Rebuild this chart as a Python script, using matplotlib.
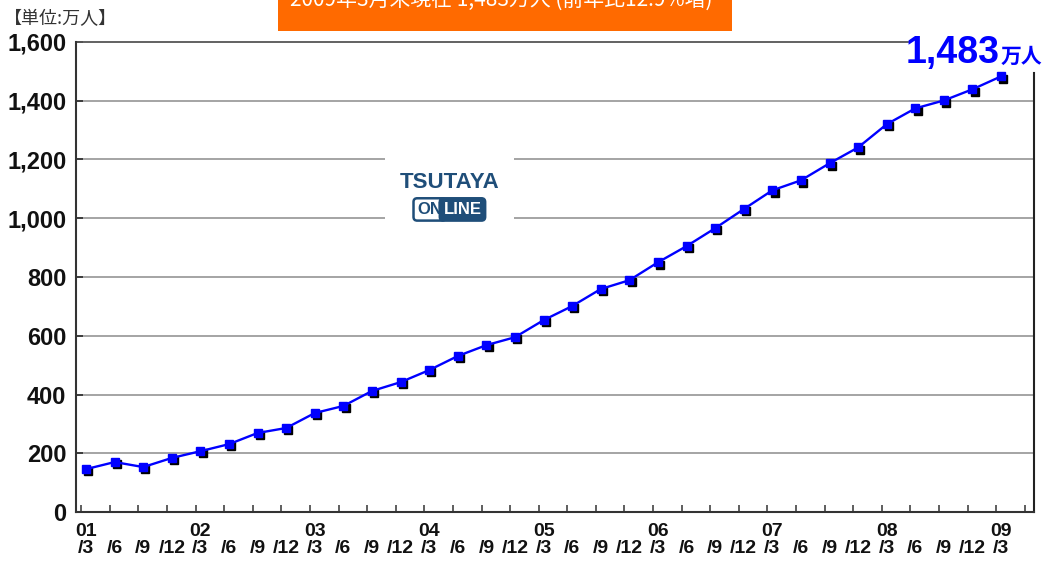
import numpy as np
import matplotlib.pyplot as plt
import matplotlib.transforms as mtransforms
from matplotlib.patches import Rectangle

# quarterly members (10k people), 2001/3 .. 2009/3
years = ["01", "02", "03", "04", "05", "06", "07", "08", "09"]
months = ["/3", "/6", "/9", "/12"]
members = [146, 170, 153, 184, 207, 231, 269, 286, 337, 361, 412, 442,
           483, 531, 568, 595, 653, 701, 759, 789, 850, 905, 966, 1031,
           1095, 1129, 1187, 1241, 1320, 1374, 1401, 1439, 1483]
yticks = [0, 200, 400, 600, 800, 1000, 1200, 1400, 1600]

narrow = ['Liberation Sans', 'DejaVu Sans']
cjk = ['Noto Sans CJK JP', 'DejaVu Sans']

labels = []
for i in range(len(members)):
    m = months[i % 4]
    y = years[i // 4] if i % 4 == 0 else ""
    labels.append(y + "\n" + m)

x = np.arange(len(members))

fig = plt.figure(figsize=(10.46, 5.66), dpi=100)
ax = fig.add_axes([0.0727, 0.0954, 0.9158, 0.8304])

# gridlines
for v in yticks[1:-1]:
    ax.axhline(v, color="#8c8c8c", lw=1.1, zorder=1)
ax.plot([0, 0.869], [1, 1], transform=ax.transAxes, color="#555555", lw=1.3, clip_on=False)
ax.plot([1, 1], [0, 0.935], transform=ax.transAxes, color="#222222", lw=1.5, clip_on=False)

# logo box (white background over gridlines)
ax.add_patch(Rectangle((10.45, 985), 4.5, 260, facecolor="white", edgecolor="none", zorder=2))
ax.text(12.7, 1120, "TSUTAYA", family=narrow, fontsize=16, fontweight="bold", color="#1f4e79",
        ha="center", va="center", zorder=3)
ax.text(12.45, 1030, "ON", family=narrow, fontsize=12, fontweight="bold", color="#1f4e79",
        ha="right", va="center", zorder=4,
        bbox=dict(boxstyle="round,pad=0.22", fc="white", ec="#1f4e79", lw=1.8))
ax.text(12.5, 1030, "LINE", family=narrow, fontsize=12, fontweight="bold", color="white",
        ha="left", va="center", zorder=4,
        bbox=dict(boxstyle="round,pad=0.22", fc="#1f4e79", ec="#1f4e79", lw=1.8))

# line with shadowed square markers
shadow = mtransforms.offset_copy(ax.transData, fig=fig, x=1.6, y=-1.6, units="points")
ax.plot(x, members, "s", color="black", ms=6, transform=shadow, zorder=4, clip_on=False)
ax.plot(x, members, "-", color="#0000ff", lw=1.7, zorder=5, clip_on=False)
ax.plot(x, members, "s", color="#0000ff", ms=6, mec="#0000ff", zorder=6, clip_on=False)

ax.set_xlim(-0.35, 33.15)
ax.set_ylim(0, 1600)

ax.set_yticks(yticks)
ax.set_yticklabels([f"{v:,}" for v in yticks], family=narrow, fontsize=17, fontweight="bold")
ax.tick_params(axis="y", direction="in", length=5, width=1.3, color="#333333", pad=7,
               labelcolor="#111111")

ax.set_xticks(x)
ax.set_xticklabels(labels, family=narrow, fontsize=14, fontweight="bold", linespacing=1.0,
                   color="#111111")
ax.tick_params(axis="x", which="major", length=0, pad=8)
ax.set_xticks(np.arange(34) - 0.17, minor=True)
ax.tick_params(axis="x", which="minor", direction="in", length=5, width=1.1, color="#333333")

for s in ["top", "right"]:
    ax.spines[s].set_visible(False)
for s in ["left", "bottom"]:
    ax.spines[s].set_color("#333333")
    ax.spines[s].set_linewidth(1.5)

# headline value
fig.text(0.866, 0.889, "1,483", family=narrow, fontsize=27, fontweight="bold", color="#0000ff",
         ha="left", va="baseline")
fig.text(0.957, 0.889, "万人", family=cjk, fontsize=15, fontweight="bold", color="#0000ff",
         ha="left", va="baseline")

# unit label
fig.text(0.004, 0.966, "【単位:万人】", family=cjk, fontsize=13, color="#333333",
         ha="left", va="center")

# orange title banner (cut off at the top of the image)
fig.patches.append(Rectangle((278 / 1046, 1 - 31 / 566), 454 / 1046, 31 / 566 + 0.01,
                             transform=fig.transFigure, facecolor="#ff6a00", edgecolor="none"))
fig.text(0.479, 1.0, "2009年3月末現在 1,483万人 (前年比12.9%増)", family=cjk, fontsize=15,
         color="white", ha="center", va="center")

fig.savefig("out.png", dpi=100)
